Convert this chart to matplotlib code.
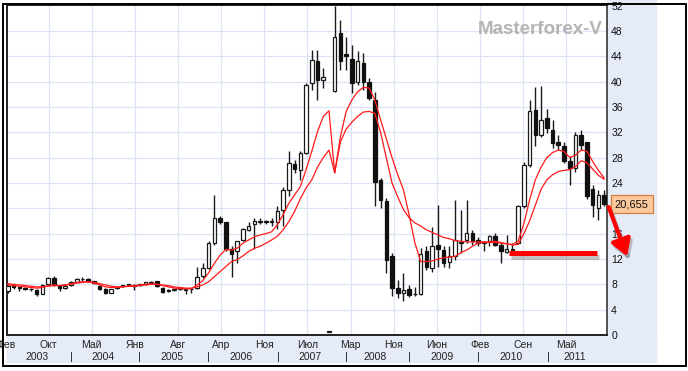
import numpy as np
import matplotlib
matplotlib.use('Agg')
import matplotlib.pyplot as plt
from matplotlib.patches import Rectangle
from matplotlib import patheffects as pe

plt.rcParams['font.family'] = ['Liberation Sans', 'DejaVu Sans']

# monthly candles, Feb 2003 .. Oct 2011 (one entry per month)
opens = [6.9, 7.8, 7.5, 7.4, 7.3, 7.1, 6.5, 8.0, 9.0, 7.7,
         7.4, 7.9, 8.4, 8.8, 8.8, 8.5, 7.8, 7.3, 6.7, 7.4,
         7.8, 7.9, 7.8, 7.9, 8.0, 8.2, 8.5, 7.4, 7.1, 7.1,
         7.3, 7.1, 7.2, 7.4, 9.3, 10.6, 14.5, 18.4, 17.8, 13.5,
         13.2, 15.0, 16.6, 17.5, 17.9, 17.95, 17.9, 17.9, 19.8, 22.9,
         27.0, 26.1, 28.7, 39.8, 43.2, 40.2, 0.45, 38.6, 47.7, 44.3,
         43.5, 39.9, 43.0, 40.0, 37.1, 24.5, 21.1, 12.4, 7.4, 6.7,
         7.2, 6.4, 6.4, 13.2, 10.5, 14.2, 13.4, 11.5, 12.4, 14.6,
         15.0, 16.1, 15.0, 14.6, 14.8, 15.6, 14.2, 13.1, 13.4, 14.5,
         20.3, 26.9, 35.6, 31.6, 34.2, 32.4, 30.5, 29.9, 27.4, 26.3,
         31.6, 30.4, 23.0, 20.0, 22.1]
highs = [8.0, 8.0, 7.6, 7.5, 7.4, 7.2, 8.0, 9.1, 9.3, 7.8,
         8.0, 8.5, 9.0, 9.1, 9.0, 8.6, 7.9, 7.4, 7.3, 7.7,
         7.9, 8.1, 8.0, 8.1, 8.4, 8.5, 8.6, 7.5, 7.2, 7.2,
         7.4, 7.3, 7.4, 10.8, 11.3, 14.8, 22.1, 18.8, 17.9, 14.0,
         14.9, 16.9, 17.8, 18.4, 18.4, 18.1, 18.5, 20.3, 23.4, 29.0,
         27.6, 29.0, 39.8, 45.0, 45.0, 42.1, 0.5, 51.9, 49.8, 47.1,
         45.8, 44.8, 44.5, 40.6, 38.4, 24.8, 21.6, 12.9, 8.7, 9.8,
         7.9, 7.6, 13.7, 14.0, 17.1, 20.5, 14.0, 14.0, 21.3, 19.8,
         21.3, 16.6, 15.5, 14.9, 15.8, 16.1, 14.5, 15.8, 14.6, 20.5,
         27.3, 37.1, 39.2, 39.3, 35.7, 34.0, 31.6, 30.5, 28.2, 32.1,
         32.4, 30.5, 23.7, 22.9, 22.9]
lows = [6.7, 7.3, 7.0, 7.1, 7.0, 6.2, 6.4, 7.9, 7.8, 7.0,
        7.3, 7.8, 8.3, 8.6, 8.4, 8.0, 7.1, 6.4, 6.6, 7.3,
        7.6, 7.7, 7.1, 7.7, 7.9, 8.1, 7.6, 6.6, 6.8, 7.0,
        7.1, 6.5, 6.7, 7.3, 9.0, 10.4, 14.2, 17.6, 13.3, 9.2,
        11.3, 14.8, 16.4, 13.5, 17.6, 17.6, 17.2, 16.8, 17.2, 22.0,
        25.6, 24.5, 28.5, 38.7, 37.1, 39.0, 0.4, 38.4, 41.9, 41.9,
        38.2, 39.5, 38.7, 37.1, 20.3, 20.0, 9.8, 6.1, 5.8, 5.3,
        6.0, 6.1, 6.3, 10.3, 10.0, 10.8, 10.8, 10.5, 11.9, 12.9,
        14.5, 14.2, 14.0, 13.2, 14.0, 14.0, 11.3, 12.9, 13.0, 14.3,
        20.0, 26.6, 29.8, 31.3, 31.9, 29.5, 29.2, 27.1, 23.7, 25.8,
        29.2, 21.5, 18.7, 18.2, 20.3]
closes = [7.8, 7.5, 7.4, 7.3, 7.2, 6.4, 7.9, 9.0, 7.9, 7.4,
          7.8, 8.3, 8.9, 8.85, 8.5, 8.2, 7.2, 6.6, 7.2, 7.6,
          7.8, 7.9, 7.8, 7.9, 8.3, 8.4, 7.7, 6.8, 6.9, 7.1,
          7.3, 7.1, 7.25, 9.1, 10.5, 14.5, 18.4, 17.8, 13.5, 12.8,
          14.8, 16.7, 17.2, 18.0, 17.95, 17.85, 17.9, 19.5, 22.9, 27.1,
          26.2, 28.7, 39.5, 43.4, 40.3, 40.7, 0.45, 47.0, 43.2, 44.0,
          39.8, 43.2, 40.0, 37.4, 24.2, 21.3, 11.9, 7.4, 6.6, 7.1,
          6.3, 6.45, 12.8, 10.8, 14.0, 13.5, 11.3, 12.4, 15.0, 14.7,
          16.1, 14.8, 14.5, 14.65, 15.6, 14.2, 13.2, 13.5, 13.5, 20.3,
          26.9, 35.3, 31.6, 33.9, 32.7, 30.3, 30.0, 27.4, 26.3, 31.6,
          30.0, 21.9, 20.5, 22.1, 20.655]

# the two red moving averages
ma_fast = [7.9, 7.8, 7.7, 7.6, 7.5, 7.4, 7.5, 7.8, 7.9, 7.8,
           7.9, 8.1, 8.3, 8.4, 8.4, 8.2, 7.9, 7.6, 7.5, 7.5,
           7.6, 7.7, 7.8, 7.9, 8.0, 8.1, 8.0, 7.8, 7.6, 7.4,
           7.3, 7.3, 7.3, 7.9, 8.6, 9.8, 11.3, 12.6, 13.5, 13.4,
           13.7, 14.5, 15.0, 15.5, 15.8, 16.0, 16.3, 17.4, 19.0, 20.8,
           22.1, 23.4, 26.1, 29.0, 32.1, 34.5, 35.4, 25.6, 31.3, 35.3,
           37.1, 38.4, 39.1, 39.0, 37.1, 34.0, 31.0, 28.0, 25.3, 22.9,
           18.9, 14.5, 11.6, 11.6, 11.7, 12.0, 12.2, 12.3, 12.4, 13.0,
           13.4, 14.0, 14.5, 14.6, 14.7, 14.8, 14.6, 14.4, 14.3, 14.8,
           17.6, 21.3, 24.5, 26.5, 28.0, 28.8, 29.2, 29.0, 28.0, 28.4,
           29.2, 29.0, 27.4, 26.0, 24.8]
ma_slow = [8.1, 8.0, 7.9, 7.8, 7.7, 7.6, 7.6, 7.7, 7.8, 7.8,
           7.9, 8.0, 8.2, 8.3, 8.4, 8.3, 8.1, 7.9, 7.7, 7.6,
           7.6, 7.7, 7.7, 7.8, 7.9, 8.0, 8.0, 7.9, 7.8, 7.6,
           7.5, 7.4, 7.4, 7.6, 7.9, 8.4, 9.2, 10.0, 10.8, 11.6,
           11.9, 12.5, 13.2, 13.7, 14.0, 14.5, 15.0, 15.6, 16.6, 17.9,
           19.5, 21.5, 23.2, 24.5, 26.5, 28.0, 29.2, 25.6, 30.5, 32.5,
           33.6, 34.5, 35.2, 35.3, 35.0, 32.0, 28.0, 24.0, 21.8, 19.8,
           18.5, 17.7, 17.2, 16.6, 16.2, 15.8, 15.4, 15.2, 14.9, 14.8,
           14.7, 14.7, 14.7, 14.7, 14.6, 14.6, 14.5, 14.4, 14.2, 14.3,
           16.0, 18.0, 20.5, 23.0, 24.5, 25.3, 25.8, 26.0, 26.1, 26.6,
           27.5, 27.2, 26.2, 25.2, 24.6]

month_labels = ['Фев', 'Окт', 'Май', 'Янв', 'Авг', 'Апр', 'Ноя',
                'Июл', 'Мар', 'Ноя', 'Июн', 'Фев', 'Сен', 'Май']
year_labels = ['2003', '2004', '2005', '2006', '2007', '2008', '2009', '2010', '2011']
year_bounds = [-0.25, 11.05, 23.0, 35.05, 47.1, 59.0, 70.05, 82.15, 94.2, 104.5]

support_x = [87.4, 102.7]
support_y = [12.9, 12.9]
last_price = closes[-1]

W, H = 688, 371
fig = plt.figure(figsize=(W / 100, H / 100), dpi=100)
fig.patch.set_facecolor('white')

band = '#e6ecf7'
fig.patches.append(Rectangle((7 / W, 1 - 362 / H), (656 - 7) / W, (362 - 335) / H,
                             transform=fig.transFigure, color=band, zorder=-2))
fig.patches.append(Rectangle((607 / W, 1 - 362 / H), (656 - 607) / W, 362 / H,
                             transform=fig.transFigure, color=band, zorder=-2))
fig.patches.append(Rectangle((3 / W, 1 - 366 / H), (686 - 3) / W, (366 - 3.5) / H,
                             transform=fig.transFigure, fill=False, ec='black',
                             lw=1.4, zorder=5))

ax = fig.add_axes([6.5 / W, 1 - 335 / H, (607 - 6.5) / W, (335 - 5) / H])
ax.set_facecolor('white')
ax.set_xlim(-0.25, 104.5)
ax.set_ylim(0, 52.1)

# grid
month_ticks = -0.4 + 7.52 * np.arange(len(month_labels))
for xt in month_ticks:
    if xt > -0.25:
        ax.axvline(xt, color='#dde3f4', lw=0.9, zorder=0)
for yt in range(4, 52, 4):
    ax.axhline(yt, color='#dde3f4', lw=0.9, zorder=0)

# candles
x = np.arange(len(closes))
o = np.array(opens)
c = np.array(closes)
ax.vlines(x, lows, highs, color='#1a1a1a', lw=1.0, zorder=2)
up = c >= o
body = np.maximum(np.abs(c - o), 0.12)
ax.bar(x[up], body[up], bottom=o[up], width=0.62, color='white',
       edgecolor='#1a1a1a', lw=0.9, zorder=3)
ax.bar(x[~up], body[~up], bottom=c[~up], width=0.62, color='#111111',
       edgecolor='#111111', lw=0.9, zorder=3)

# moving averages
ax.plot(x, ma_fast, color='#ff1a1a', lw=0.9, zorder=4)
ax.plot(x, ma_slow, color='#ff1a1a', lw=0.9, zorder=4)

# support level and arrow
shadow = [pe.SimpleLineShadow(offset=(1.5, -2.5), shadow_color='#777777', alpha=0.45),
          pe.Normal()]
ax.plot(support_x, support_y, color='#ff0000', lw=3.6, solid_capstyle='butt',
        zorder=6, path_effects=shadow)
ax.annotate('', xy=(108.0, 12.4), xytext=(104.8, 20.2), annotation_clip=False,
            arrowprops=dict(arrowstyle='-|>,head_length=1.0,head_width=0.6',
                            color='#ff0000', lw=3.0, shrinkA=0, shrinkB=0,
                            path_effects=shadow), zorder=9)

# axes frame
for side in ['left', 'top', 'bottom']:
    ax.spines[side].set_color('#222222')
    ax.spines[side].set_linewidth(1.4)
ax.spines['right'].set_color('#444444')
ax.spines['right'].set_linewidth(1.3)

ax.yaxis.tick_right()
ax.set_yticks(range(0, 53, 4))
ax.tick_params(axis='y', length=0, pad=3, labelsize=7.5, colors='#111111')
ax.set_xticks([])

xform = ax.get_xaxis_transform()
for xt, lab in zip(month_ticks, month_labels):
    ax.text(xt, -0.031, lab, transform=xform, ha='center', va='center',
            fontsize=7.5, color='#222222', clip_on=False)
for i, lab in enumerate(year_labels):
    mid = (year_bounds[i] + year_bounds[i + 1]) / 2 - 0.4
    ax.text(mid, -0.067, lab, transform=xform, ha='center', va='center',
            fontsize=7.5, color='#222222', clip_on=False)
for xb in year_bounds[1:-1]:
    ax.text(xb, -0.067, '|', transform=xform, ha='center', va='center',
            fontsize=8, color='#222222', clip_on=False)

# last price label (covers the "20" tick label, as in the original)
ax.text(1.013, last_price, f'{last_price:.3f}'.replace('.', ','),
        transform=ax.get_yaxis_transform(), ha='left', va='center',
        fontsize=8, color='#111111', zorder=8, clip_on=False,
        bbox=dict(boxstyle='square,pad=0.38', fc='#fcc79a', ec='#d0803c', lw=0.9))

# watermark
ax.text(0.992, 0.925, 'Masterforex-V', transform=ax.transAxes, ha='right',
        va='center', fontsize=13.5, fontweight='bold', color='#b4b4b4', zorder=1)

fig.savefig('out.png', dpi=100)
